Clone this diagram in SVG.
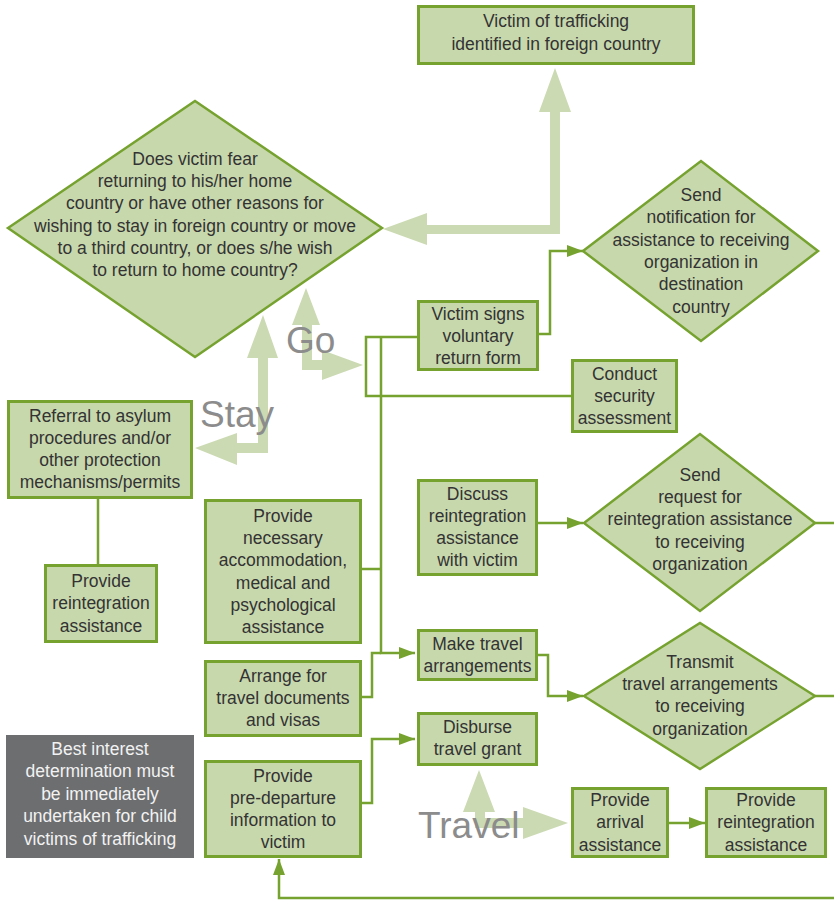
<svg xmlns="http://www.w3.org/2000/svg" width="834" height="900" viewBox="0 0 834 900">
<defs>
<style>
.box{fill:#c8d8ad;stroke:#76a22f;stroke-width:3}
.dia{fill:#c8d8ad;stroke:#76a22f;stroke-width:2.5}
.gray{fill:#6d6e70}
.t{font-family:"Liberation Sans",Arial,sans-serif;font-size:17.5px;fill:#333333;text-anchor:middle}
.tw{font-family:"Liberation Sans",Arial,sans-serif;font-size:17.5px;fill:#f2f2f2;text-anchor:middle}
.big{font-family:"Liberation Sans",Arial,sans-serif;font-size:37px;fill:#8c8c8c}
.ln{fill:none;stroke:#76a22f;stroke-width:2.5}
.arw{fill:#cbdab2}
</style>
<marker id="ah" viewBox="0 0 16 12" refX="16" refY="6" markerWidth="16" markerHeight="12" markerUnits="userSpaceOnUse" orient="auto">
<path d="M0,0 L16,6 L0,12 z" fill="#76a22f"/>
</marker>
</defs>

<g id="flow-arrows">
<polygon class="arw" points="383,229 427,213 427,225 550,225 550,112 539,112 555,68 571,112 560,112 560,234 427,234 427,245"/>
<polygon class="arw" points="195,448 237,433 237,443 258,443 258,358 247,358 263,315 278,358 268,358 268,453 237,453 237,465"/>
<polygon class="arw" points="302,370 302,325 292,325 306,288 320,325 312,325 312,360 322,360 322,350 363,365 322,380 322,370"/>
<polygon class="arw" points="475,828 475,812 463,812 479,770 495,812 485,812 485,818 523,818 523,807 568,823 523,839 523,828"/>
</g>

<g id="connectors">
<polyline class="ln" points="539,334 550,334 550,251 583,251" marker-end="url(#ah)"/>
<polyline class="ln" points="417,337 366,337 366,396 572,396"/>
<polyline class="ln" points="381,337 381,653 415,653" marker-end="url(#ah)"/>
<polyline class="ln" points="362,569 381,569"/>
<polyline class="ln" points="362,697 372,697 372,653 381,653"/>
<polyline class="ln" points="362,803 372,803 372,739 415,739" marker-end="url(#ah)"/>
<polyline class="ln" points="98,499 98,564"/>
<polyline class="ln" points="538,523 583,523" marker-end="url(#ah)"/>
<polyline class="ln" points="538,655 548,655 548,696 583,696" marker-end="url(#ah)"/>
<polyline class="ln" points="815,523 834,523"/>
<polyline class="ln" points="815,696 834,696"/>
<polyline class="ln" points="834,898 279,898 279,859" marker-end="url(#ah)"/>
<polyline class="ln" points="669,823 705,823" marker-end="url(#ah)"/>
</g>

<g id="n-identified">
<rect class="box" x="418.5" y="6.5" width="275" height="57"/>
<text class="t" x="556" y="27">Victim of trafficking</text>
<text class="t" x="556" y="50">identified in foreign country</text>
</g>

<g id="n-question">
<polygon class="dia" points="8,228 195,101 382,228 195,357"/>
<text class="t" x="195" y="165">Does victim fear</text>
<text class="t" x="195" y="187">returning to his/her home</text>
<text class="t" x="195" y="209">country or have other reasons for</text>
<text class="t" x="195" y="232">wishing to stay in foreign country or move</text>
<text class="t" x="195" y="254">to a third country, or does s/he wish</text>
<text class="t" x="195" y="276">to return to home country?</text>
</g>

<g id="n-notification">
<polygon class="dia" points="583,251 701,161 818,251 701,341"/>
<text class="t" x="701" y="201">Send</text>
<text class="t" x="701" y="223">notification for</text>
<text class="t" x="701" y="246">assistance to receiving</text>
<text class="t" x="701" y="268">organization in</text>
<text class="t" x="701" y="290">destination</text>
<text class="t" x="701" y="313">country</text>
</g>

<g id="n-signs">
<rect class="box" x="418.5" y="301.5" width="119" height="68"/>
<text class="t" x="478" y="320">Victim signs</text>
<text class="t" x="478" y="342">voluntary</text>
<text class="t" x="478" y="364">return form</text>
</g>

<g id="n-security">
<rect class="box" x="572.5" y="360.5" width="104" height="71"/>
<text class="t" x="624.5" y="380">Conduct</text>
<text class="t" x="624.5" y="402">security</text>
<text class="t" x="624.5" y="424">assessment</text>
</g>

<g id="n-referral">
<rect class="box" x="8.5" y="401.5" width="183" height="96"/>
<text class="t" x="100" y="422">Referral to asylum</text>
<text class="t" x="100" y="444">procedures and/or</text>
<text class="t" x="100" y="466">other protection</text>
<text class="t" x="100" y="488">mechanisms/permits</text>
</g>

<g id="n-reint-left">
<rect class="box" x="45.5" y="565.5" width="111" height="76"/>
<text class="t" x="101" y="587">Provide</text>
<text class="t" x="101" y="609">reintegration</text>
<text class="t" x="101" y="632">assistance</text>
</g>

<g id="n-accommodation">
<rect class="box" x="205.5" y="500.5" width="155" height="142"/>
<text class="t" x="283" y="522">Provide</text>
<text class="t" x="283" y="544">necessary</text>
<text class="t" x="283" y="566">accommodation,</text>
<text class="t" x="283" y="589">medical and</text>
<text class="t" x="283" y="611">psychological</text>
<text class="t" x="283" y="633">assistance</text>
</g>

<g id="n-discuss">
<rect class="box" x="418.5" y="480.5" width="118" height="94"/>
<text class="t" x="477.5" y="500">Discuss</text>
<text class="t" x="477.5" y="522">reintegration</text>
<text class="t" x="477.5" y="544">assistance</text>
<text class="t" x="477.5" y="566">with victim</text>
</g>

<g id="n-request">
<polygon class="dia" points="584,523 700,434 815,523 700,611"/>
<text class="t" x="700" y="481">Send</text>
<text class="t" x="700" y="503">request for</text>
<text class="t" x="700" y="525">reintegration assistance</text>
<text class="t" x="700" y="548">to receiving</text>
<text class="t" x="700" y="570">organization</text>
</g>

<g id="n-make-travel">
<rect class="box" x="418.5" y="630.5" width="118" height="49"/>
<text class="t" x="477.5" y="650">Make travel</text>
<text class="t" x="477.5" y="672">arrangements</text>
</g>

<g id="n-documents">
<rect class="box" x="205.5" y="661.5" width="155" height="74"/>
<text class="t" x="283" y="682">Arrange for</text>
<text class="t" x="283" y="704">travel documents</text>
<text class="t" x="283" y="726">and visas</text>
</g>

<g id="n-transmit">
<polygon class="dia" points="584,696 700,623 815,696 700,769"/>
<text class="t" x="700" y="668">Transmit</text>
<text class="t" x="700" y="690">travel arrangements</text>
<text class="t" x="700" y="712">to receiving</text>
<text class="t" x="700" y="735">organization</text>
</g>

<g id="n-disburse">
<rect class="box" x="418.5" y="713.5" width="118" height="51"/>
<text class="t" x="477.5" y="733">Disburse</text>
<text class="t" x="477.5" y="755">travel grant</text>
</g>

<g id="n-best-interest">
<rect class="gray" x="6" y="735" width="188" height="123"/>
<text class="tw" x="100" y="755">Best interest</text>
<text class="tw" x="100" y="777">determination must</text>
<text class="tw" x="100" y="800">be immediately</text>
<text class="tw" x="100" y="822">undertaken for child</text>
<text class="tw" x="100" y="845">victims of trafficking</text>
</g>

<g id="n-predeparture">
<rect class="box" x="205.5" y="761.5" width="155" height="95"/>
<text class="t" x="283" y="782">Provide</text>
<text class="t" x="283" y="804">pre-departure</text>
<text class="t" x="283" y="826">information to</text>
<text class="t" x="283" y="848">victim</text>
</g>

<g id="n-arrival">
<rect class="box" x="572.5" y="788.5" width="95" height="68"/>
<text class="t" x="620" y="806">Provide</text>
<text class="t" x="620" y="828">arrival</text>
<text class="t" x="620" y="851">assistance</text>
</g>

<g id="n-reint-right">
<rect class="box" x="706.5" y="788.5" width="119" height="68"/>
<text class="t" x="766" y="806">Provide</text>
<text class="t" x="766" y="828">reintegration</text>
<text class="t" x="766" y="851">assistance</text>
</g>

<g id="labels">
<text class="big" x="200" y="427">Stay</text>
<text class="big" x="286" y="353">Go</text>
<text class="big" x="418" y="838">Travel</text>
</g>
</svg>
